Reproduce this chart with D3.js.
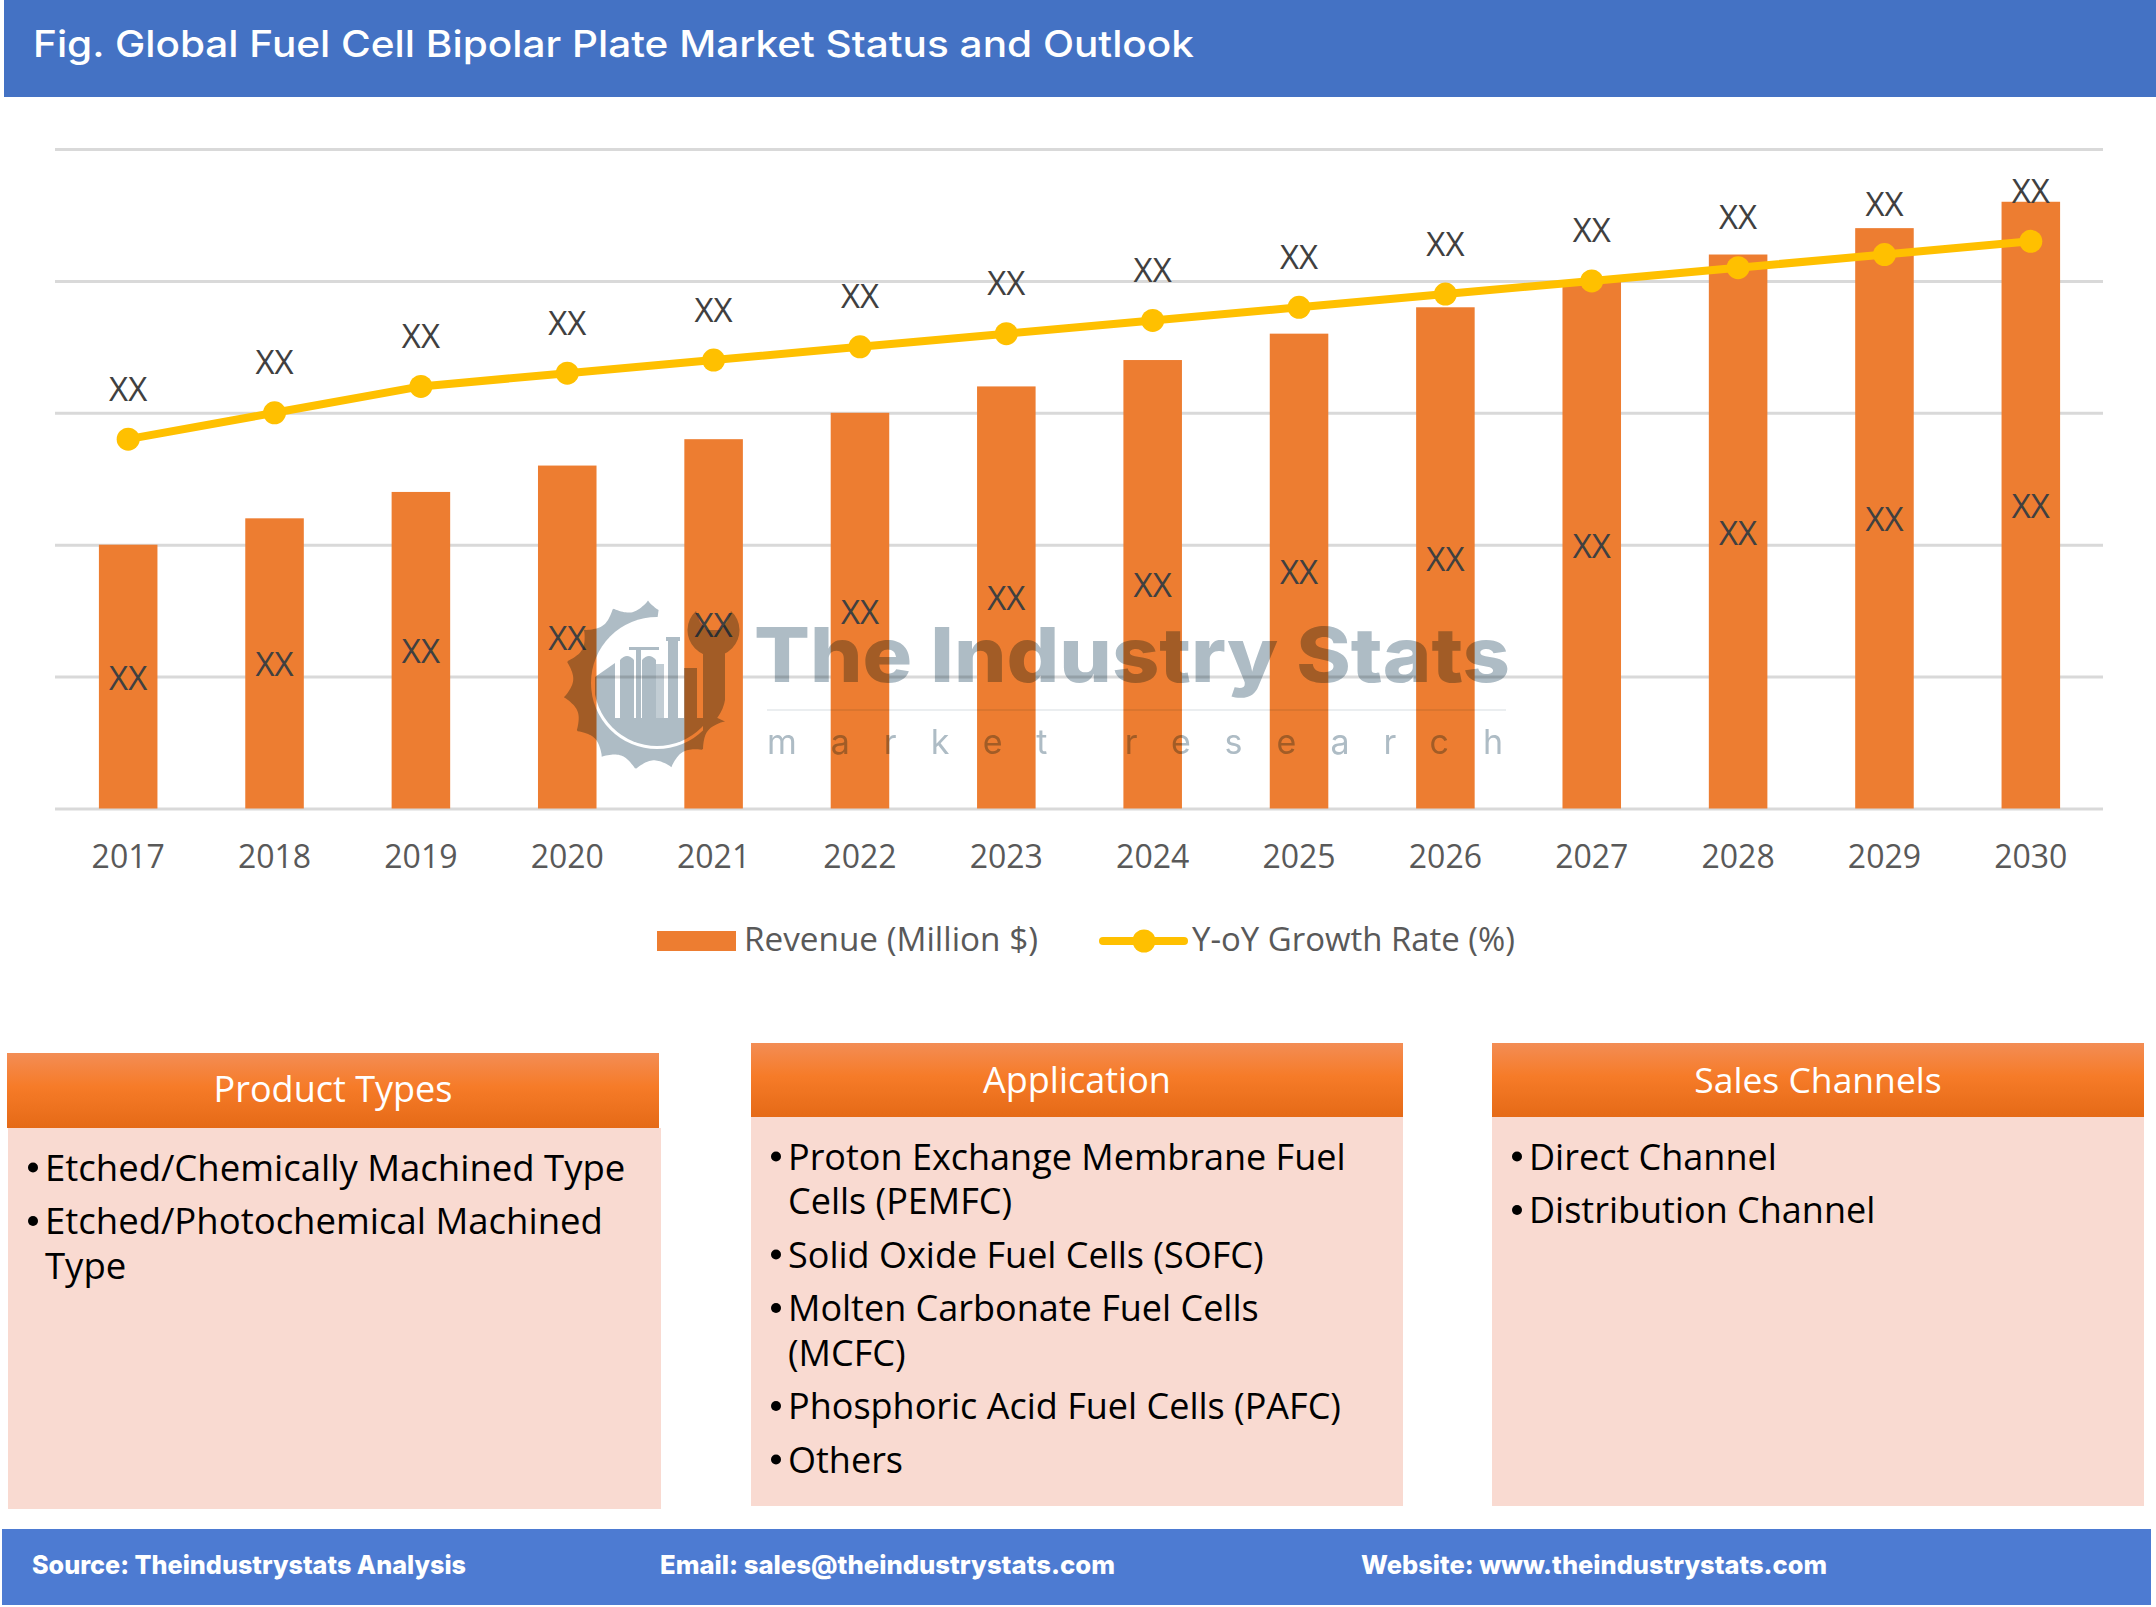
<!DOCTYPE html>
<html><head><meta charset="utf-8">
<script src="https://cdn.jsdelivr.net/npm/d3@7"></script>
<style>
html,body{margin:0;padding:0;background:#fff}
svg{display:block}
text{font-family:"Open Sans",sans-serif}
</style></head><body>
<svg id="c" width="2156" height="1607" viewBox="0 0 2156 1607"></svg>
<script>
const titleText = "Fig. Global Fuel Cell Bipolar Plate Market Status and Outlook";
const years = ["2017","2018","2019","2020","2021","2022","2023","2024","2025","2026","2027","2028","2029","2030"];
const revenue = [20,22,24,26,28,30,32,34,36,38,40,42,44,46];
const growth  = [28,30,32,33,34,35,36,37,38,39,40,41,42,43];
const gridTicks = [0,10,20,30,40,50];
const pointLabel = "XX";
const legendNames = ["Revenue (Million $)","Y-oY Growth Rate (%)"];
const productItems = [["Etched/Chemically Machined Type"],["Etched/Photochemical Machined","Type"]];
const applicationItems = [["Proton Exchange Membrane Fuel","Cells (PEMFC)"],["Solid Oxide Fuel Cells (SOFC)"],["Molten Carbonate Fuel Cells","(MCFC)"],["Phosphoric Acid Fuel Cells (PAFC)"],["Others"]];
const salesItems = [["Direct Channel"],["Distribution Channel"]];
const footerTexts = ["Source: Theindustrystats Analysis","Email: sales@theindustrystats.com","Website: www.theindustrystats.com"];

const svg = d3.select("#c");
const defs = svg.append("defs");
const grad = defs.append("linearGradient").attr("id","hdr").attr("x1",0).attr("x2",0).attr("y1",0).attr("y2",1);
[[0,"#F38D55"],[0.45,"#F67B28"],[1,"#E56A17"]].forEach(s=>grad.append("stop").attr("offset",s[0]).attr("stop-color",s[1]));

// Title band
svg.append("rect").attr("x",4).attr("y",0).attr("width",2152).attr("height",97).attr("fill","#4472C4");
svg.append("text").attr("x",33).attr("y",57).attr("fill","#fff")
  .style("font-family","Inter").style("font-weight",500).style("font-size","37px")
  .attr("textLength",1161).attr("lengthAdjust","spacingAndGlyphs").text(titleText);

// Chart
const x = d3.scaleBand().domain(years).range([55,2104]).paddingInner(0.6).paddingOuter(0.3);
const y = d3.scaleLinear().domain([0,50]).range([808.5,149]);
const cx = d => x(d)+x.bandwidth()/2;

const gridG = svg.append("g")
  .call(d3.axisLeft(y).tickValues(gridTicks).tickSize(0).tickFormat(""))
  .call(g=>g.select(".domain").remove());
gridG.selectAll(".tick line").attr("x1",55).attr("x2",2103).attr("stroke","#D9D9D9").attr("stroke-width",3);

svg.append("g").selectAll("rect").data(revenue).join("rect")
  .attr("x",(d,i)=>x(years[i])).attr("width",x.bandwidth())
  .attr("y",d=>y(d)).attr("height",d=>y(0)-y(d)).attr("fill","#ED7D31");

const line = d3.line().x((d,i)=>cx(years[i])).y(d=>y(d));
svg.append("path").attr("d",line(growth)).attr("fill","none").attr("stroke","#FFC000").attr("stroke-width",8).attr("stroke-linecap","round").attr("stroke-linejoin","round");
svg.append("g").selectAll("circle").data(growth).join("circle")
  .attr("cx",(d,i)=>cx(years[i])).attr("cy",d=>y(d)).attr("r",11.5).attr("fill","#FFC000");

const xAxis = svg.append("g").attr("transform","translate(0,808.5)")
  .call(d3.axisBottom(x).tickSize(0).tickPadding(0))
  .call(g=>g.select(".domain").remove());
xAxis.selectAll("text").attr("y",59.5).attr("dy",0).attr("fill","#595959").style("font-size","32px").style("font-family","Open Sans");

const lbl = g=>g.attr("text-anchor","middle").attr("fill","#404040").style("font-size","33px").text(pointLabel);
svg.append("g").selectAll("text").data(growth).join("text")
  .attr("x",(d,i)=>cx(years[i])).attr("y",d=>y(d)-38.5).call(lbl);
svg.append("g").selectAll("text").data(revenue).join("text")
  .attr("x",(d,i)=>cx(years[i])).attr("y",d=>(y(d)+y(0))/2+13).call(lbl);

// Legend
svg.append("rect").attr("x",657).attr("y",931).attr("width",79).attr("height",20).attr("fill","#ED7D31");
svg.append("line").attr("x1",1103).attr("x2",1184).attr("y1",941).attr("y2",941).attr("stroke","#FFC000").attr("stroke-width",8).attr("stroke-linecap","round");
svg.append("circle").attr("cx",1144).attr("cy",941).attr("r",11.5).attr("fill","#FFC000");
[[744,294],[1192,323]].forEach((p,i)=>svg.append("text").attr("x",p[0]).attr("y",951).attr("fill","#595959").style("font-size","32px")
  .attr("textLength",p[1]).attr("lengthAdjust","spacingAndGlyphs").text(legendNames[i]));

// Panels
function panel(hx,hw,hy,hh,bx,bw,bBottom,title,items,textX,firstBase,fs,titleSize,titleUp){
  svg.append("rect").attr("x",bx).attr("y",hy+hh).attr("width",bw).attr("height",bBottom-hy-hh).attr("fill","#F9DAD1");
  svg.append("rect").attr("x",hx).attr("y",hy).attr("width",hw).attr("height",hh).attr("fill","url(#hdr)");
  svg.append("text").attr("x",hx+hw/2).attr("y",hy+hh-titleUp).attr("text-anchor","middle").attr("fill","#fff").style("font-size",titleSize+"px").text(title);
  let b = firstBase;
  items.forEach(lines=>{
    svg.append("circle").attr("cx",textX-12).attr("cy",b-13).attr("r",5).attr("fill","#000");
    lines.forEach((t,j)=>{
      if(j>0) b+=44.5;
      svg.append("text").attr("x",textX).attr("y",b).attr("fill","#000").style("font-size",fs+"px").text(t);
    });
    b+=53.5;
  });
}
panel(7,652,1053,75,8,653,1509,"Product Types",productItems,45,1180.5,36.5,36,26);
panel(751,652,1043,74,751,652,1506,"Application",applicationItems,788,1169.5,36,36,24.5);
panel(1492,652,1043,74,1492,652,1506,"Sales Channels",salesItems,1529,1169.5,36,35.5,24.5);

// Footer
svg.append("rect").attr("x",2).attr("y",1529).attr("width",2149).attr("height",76).attr("fill","#4D7BD2");
[[32,434],[660,455],[1361,466]].forEach((p,i)=>svg.append("text").attr("x",p[0]).attr("y",1574).attr("fill","#fff")
  .style("font-family","Inter").style("font-weight",800).style("font-size","26px")
  .attr("textLength",p[1]).attr("lengthAdjust","spacingAndGlyphs").text(footerTexts[i]));

// Watermark
const wm = svg.append("g").style("mix-blend-mode","multiply").attr("fill","#AEBCC5");
const gc=[648,685.5], deg=Math.PI/180;
const teeth=[];
for(let a=115;a<=368;a+=1){
  const ph=((a-115)%24.5)/24.5;
  const r=85-10*Math.pow(Math.max(0,Math.sin(ph*Math.PI)),0.8);
  teeth.push([gc[0]+r*Math.sin(a*deg),gc[1]-r*Math.cos(a*deg)]);
}
const mask=defs.append("mask").attr("id","gm").attr("maskUnits","userSpaceOnUse").attr("x",540).attr("y",590).attr("width",230).attr("height",200);
mask.append("rect").attr("x",540).attr("y",590).attr("width",230).attr("height",200).attr("fill","#fff");
mask.append("circle").attr("cx",657).attr("cy",683).attr("r",66).attr("fill","#000");
wm.append("path").attr("mask","url(#gm)").attr("d","M"+teeth.map(p=>p.join(",")).join("L")+"L"+gc.join(",")+"Z");
const clip=defs.append("clipPath").attr("id","dc");
clip.append("circle").attr("cx",657).attr("cy",683).attr("r",63);
const disc=wm.append("g").attr("clip-path","url(#dc)");
disc.append("rect").attr("x",590).attr("y",718).attr("width",140).attr("height",40);
disc.append("path").attr("d","M595,677L615,663L615,718L595,718Z");
disc.append("path").attr("d","M620,718V660Q627,652 634,660V718Z");
disc.append("path").attr("d","M642,718V660Q649,652 656,660V718Z");
disc.append("rect").attr("x",636).attr("y",650).attr("width",5).attr("height",68);
disc.append("rect").attr("x",629).attr("y",647).attr("width",30).attr("height",3);
disc.append("rect").attr("x",656).attr("y",664).attr("width",8).attr("height",54).attr("opacity",0.75);
disc.append("rect").attr("x",668).attr("y",640).attr("width",10).attr("height",78);
disc.append("rect").attr("x",666).attr("y",637).attr("width",14).attr("height",4);
disc.append("rect").attr("x",684).attr("y",668).attr("width",13).attr("height",50);
wm.append("path").attr("d","M696,611A26,26 0 1,0 731,611L727,622L720,630H707L700,622Z");
wm.append("path").attr("d","M703,650H725V700Q722,718 703,731Z");
wm.append("text").attr("x",754).attr("y",682).style("font-family","Inter").style("font-weight",800).style("font-size","76px")
  .attr("textLength",756).attr("lengthAdjust","spacingAndGlyphs").text("The Industry Stats");
wm.append("rect").attr("x",767).attr("y",709).attr("width",739).attr("height",2).attr("opacity",0.25);
wm.append("text").attr("x",767).attr("y",754).style("font-family","Inter").style("font-weight",400).style("font-size","34px")
  .attr("textLength",736).attr("lengthAdjust","spacing").text("market research");
</script></body></html>
